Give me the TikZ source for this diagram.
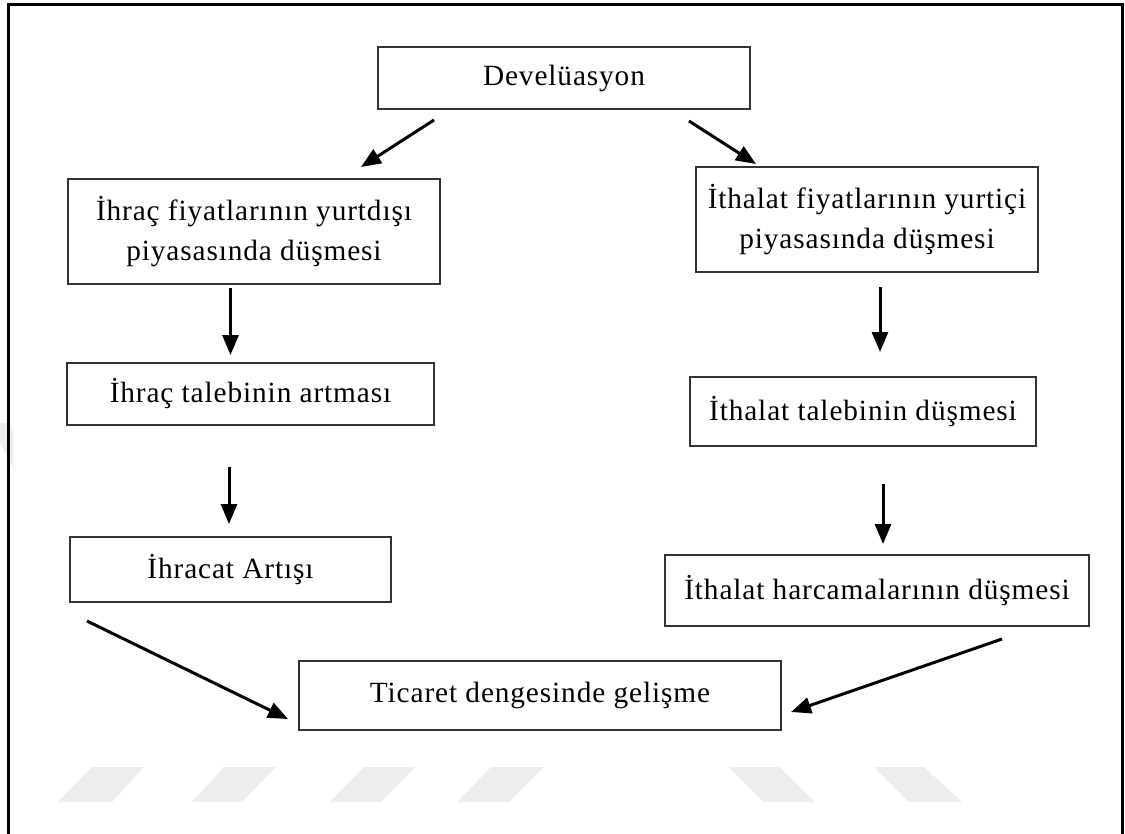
\documentclass[tikz,border=0pt]{standalone}
\usepackage{fontspec}
\setmainfont{Liberation Serif}[LetterSpace=3]
\usetikzlibrary{arrows.meta}
\begin{document}
\begin{tikzpicture}[x=0.75pt,y=-0.75pt,
  box/.style={draw=black!80, line width=1.5pt, rectangle, inner sep=0pt, align=center,
    font=\fontsize{22}{30}\selectfont},
  arr/.style={line width=2.25pt, -{Triangle[length=15pt,width=12pt]}},
  wm/.style={fill=black!7, draw=none}]
\useasboundingbox (0,0) rectangle (1125,833);
\fill[white] (0,0) rectangle (1125,833);
% watermark
\fill[wm] (92,767) -- (144,767) -- (112,802) -- (58,802) -- cycle;
\fill[wm] (224,767) -- (276,767) -- (242,802) -- (192,802) -- cycle;
\fill[wm] (364,767) -- (415,767) -- (381,802) -- (330,802) -- cycle;
\fill[wm] (491,767) -- (544,767) -- (509,802) -- (457,802) -- cycle;
\fill[wm] (729,767) -- (779,767) -- (815,802) -- (764,802) -- cycle;
\fill[wm] (874,767) -- (924,767) -- (962,802) -- (909,802) -- cycle;
\fill[wm] (0,423) -- (9,423) -- (13,431) -- (13,467) -- (0,442) -- cycle;
% outer frame
\begin{scope}
  \clip (0,0) rectangle (1125,833);
  \draw[line width=2.25pt] (8.5,4.5) rectangle (1122.5,860);
\end{scope}
% boxes
\node[box, minimum width=279pt, minimum height=46.5pt] (dev) at (564,78) {Develüasyon};
\node[box, minimum width=279pt, minimum height=78.75pt] (ihf) at (254,231.5) {İhraç fiyatlarının yurtdışı\\piyasasında düşmesi};
\node[box, minimum width=275.25pt, minimum height=46.5pt] (iht) at (250.5,394) {İhraç talebinin artması};
\node[box, minimum width=240.75pt, minimum height=48.75pt] (iha) at (230.5,569.5) {İhracat Artışı};
\node[box, minimum width=256.5pt, minimum height=78.75pt] (ith) at (867,219.5) {İthalat fiyatlarının yurtiçi\\piyasasında düşmesi};
\node[box, minimum width=259.5pt, minimum height=51.75pt] (itt) at (863,411.5) {İthalat talebinin düşmesi};
\node[box, minimum width=318pt, minimum height=53.25pt] (ihar) at (877,590.5) {İthalat harcamalarının düşmesi};
\node[box, minimum width=361.5pt, minimum height=51.75pt] (tic) at (540,695.5) {Ticaret dengesinde gelişme};
% arrow end points
\coordinate (a1s) at (434,120);   \coordinate (a1e) at (361,167);
\coordinate (a2s) at (689,121);   \coordinate (a2e) at (756,164);
\coordinate (a3s) at (230.5,288); \coordinate (a3e) at (230.5,355);
\coordinate (a4s) at (880,287);   \coordinate (a4e) at (880,352);
\coordinate (a5s) at (229,467);   \coordinate (a5e) at (229,524);
\coordinate (a6s) at (883,484);   \coordinate (a6e) at (883,544);
\coordinate (a7s) at (87,621);    \coordinate (a7e) at (288,719);
\coordinate (a8s) at (1002,639);  \coordinate (a8e) at (791,712);
\draw[arr] (a1s) -- (a1e);
\draw[arr] (a2s) -- (a2e);
\draw[arr] (a3s) -- (a3e);
\draw[arr] (a4s) -- (a4e);
\draw[arr] (a5s) -- (a5e);
\draw[arr] (a6s) -- (a6e);
\draw[arr] (a7s) -- (a7e);
\draw[arr] (a8s) -- (a8e);
\end{tikzpicture}
\end{document}
